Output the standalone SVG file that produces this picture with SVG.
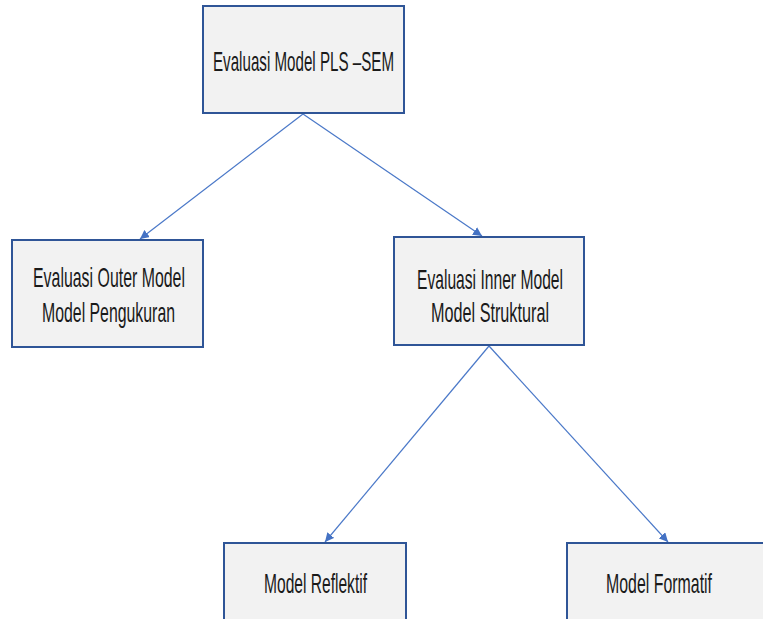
<svg xmlns="http://www.w3.org/2000/svg" width="763" height="619" viewBox="0 0 763 619">
<style>
.box{fill:#f2f2f2;stroke:#2f5597;stroke-width:2}
.lbl{font-family:"Liberation Sans",Arial,sans-serif;font-size:28px;fill:#1a1a1a}
.con{stroke:#4a78c8;stroke-width:1.2;fill:none;marker-end:url(#ah)}
</style>
<defs>
<marker id="ah" viewBox="0 0 10 10" refX="10" refY="5" markerWidth="9" markerHeight="9" markerUnits="userSpaceOnUse" orient="auto">
<path d="M0,0 L10,5 L0,10 z" fill="#4472c4"/>
</marker>
</defs>
<rect width="763" height="619" fill="#ffffff"/>
<g id="connectors">
<line class="con" x1="303" y1="114" x2="140" y2="239"/>
<line class="con" x1="303" y1="114" x2="482" y2="236"/>
<line class="con" x1="489" y1="346" x2="325" y2="542"/>
<line class="con" x1="489" y1="346" x2="668" y2="542"/>
</g>
<g id="node-pls-sem">
<rect class="box" x="203" y="6" width="201" height="107"/>
<text class="lbl" x="213" y="71" textLength="181" lengthAdjust="spacingAndGlyphs">Evaluasi Model PLS –SEM</text>
</g>
<g id="node-outer">
<rect class="box" x="12" y="240" width="191" height="107"/>
<text class="lbl" x="33" y="287" textLength="152" lengthAdjust="spacingAndGlyphs">Evaluasi Outer Model</text>
<text class="lbl" x="42" y="322" textLength="133" lengthAdjust="spacingAndGlyphs">Model Pengukuran</text>
</g>
<g id="node-inner">
<rect class="box" x="394" y="237" width="190" height="108"/>
<text class="lbl" x="417" y="289" textLength="146" lengthAdjust="spacingAndGlyphs">Evaluasi Inner Model</text>
<text class="lbl" x="431" y="322" textLength="118" lengthAdjust="spacingAndGlyphs">Model Struktural</text>
</g>
<g id="node-reflektif">
<rect class="box" x="224" y="543" width="182" height="90"/>
<text class="lbl" x="264" y="593" textLength="103" lengthAdjust="spacingAndGlyphs">Model Reflektif</text>
</g>
<g id="node-formatif">
<rect class="box" x="567" y="543" width="210" height="90"/>
<text class="lbl" x="606" y="593" textLength="106" lengthAdjust="spacingAndGlyphs">Model Formatif</text>
</g>
</svg>
